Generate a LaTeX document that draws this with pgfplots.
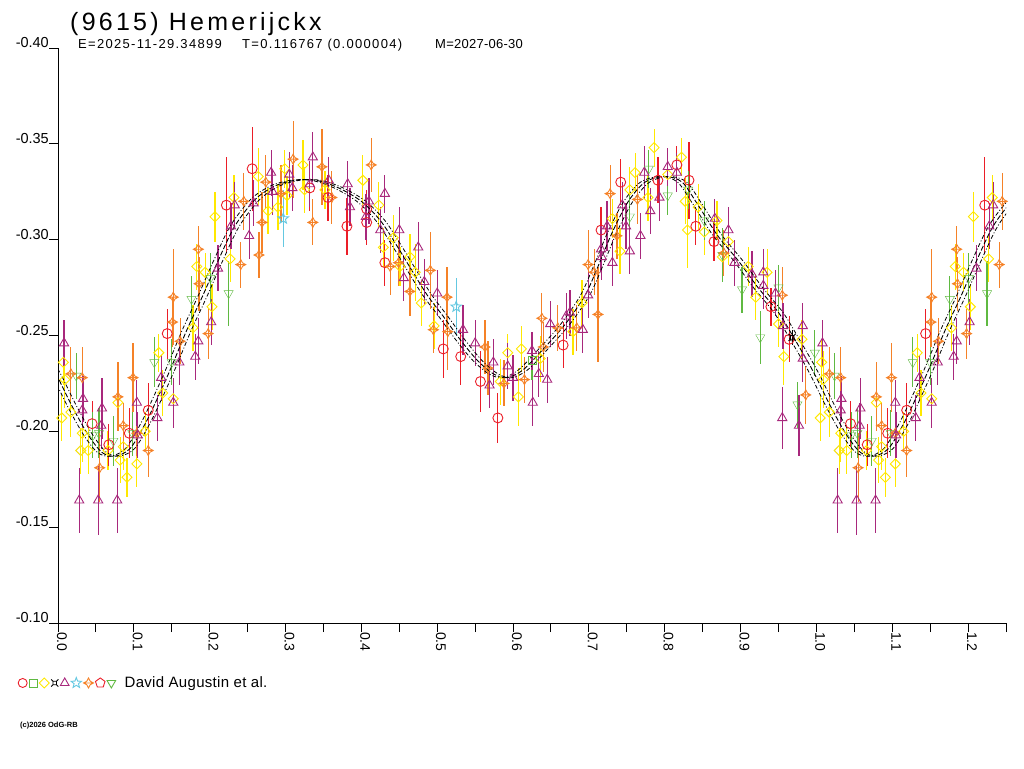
\documentclass[border=0pt]{standalone}
\usepackage{fontspec}
\setmainfont{Liberation Sans}
\usepackage{pgfplots}
\usepackage{pgfplotstable}
\pgfplotsset{compat=1.18}
\definecolor{cred}{RGB}{235,30,40}
\definecolor{cgreen}{RGB}{95,185,65}
\definecolor{cyellow}{RGB}{255,232,0}
\definecolor{cpurple}{RGB}{168,40,124}
\definecolor{ccyan}{RGB}{100,200,225}
\definecolor{corange}{RGB}{245,130,40}
\definecolor{cgray}{RGB}{200,200,200}

\pgfdeclareplotmark{sqdiamond}{%
 \pgfpathmoveto{\pgfqpoint{0pt}{\pgfplotmarksize}}%
 \pgfpathlineto{\pgfqpoint{\pgfplotmarksize}{0pt}}%
 \pgfpathlineto{\pgfqpoint{0pt}{-\pgfplotmarksize}}%
 \pgfpathlineto{\pgfqpoint{-\pgfplotmarksize}{0pt}}%
 \pgfpathclose\pgfusepathqstroke}
\pgfdeclareplotmark{sparkle}{%
 \pgfpathmoveto{\pgfqpoint{0pt}{\pgfplotmarksize}}%
 \pgfpathlineto{\pgfqpoint{0.35\pgfplotmarksize}{0.35\pgfplotmarksize}}%
 \pgfpathlineto{\pgfqpoint{\pgfplotmarksize}{0pt}}%
 \pgfpathlineto{\pgfqpoint{0.35\pgfplotmarksize}{-0.35\pgfplotmarksize}}%
 \pgfpathlineto{\pgfqpoint{0pt}{-\pgfplotmarksize}}%
 \pgfpathlineto{\pgfqpoint{-0.35\pgfplotmarksize}{-0.35\pgfplotmarksize}}%
 \pgfpathlineto{\pgfqpoint{-\pgfplotmarksize}{0pt}}%
 \pgfpathlineto{\pgfqpoint{-0.35\pgfplotmarksize}{0.35\pgfplotmarksize}}%
 \pgfpathclose
 \pgfpathmoveto{\pgfqpoint{-\pgfplotmarksize}{0pt}}%
 \pgfpathlineto{\pgfqpoint{\pgfplotmarksize}{0pt}}%
 \pgfusepathqstroke}
\pgfdeclareplotmark{ostar}{%
 \pgfpathmoveto{\pgfqpoint{0pt}{\pgfplotmarksize}}%
 \pgfpathlineto{\pgfqpoint{0.247\pgfplotmarksize}{0.340\pgfplotmarksize}}%
 \pgfpathlineto{\pgfqpoint{0.951\pgfplotmarksize}{0.309\pgfplotmarksize}}%
 \pgfpathlineto{\pgfqpoint{0.399\pgfplotmarksize}{-0.130\pgfplotmarksize}}%
 \pgfpathlineto{\pgfqpoint{0.588\pgfplotmarksize}{-0.809\pgfplotmarksize}}%
 \pgfpathlineto{\pgfqpoint{0pt}{-0.42\pgfplotmarksize}}%
 \pgfpathlineto{\pgfqpoint{-0.588\pgfplotmarksize}{-0.809\pgfplotmarksize}}%
 \pgfpathlineto{\pgfqpoint{-0.399\pgfplotmarksize}{-0.130\pgfplotmarksize}}%
 \pgfpathlineto{\pgfqpoint{-0.951\pgfplotmarksize}{0.309\pgfplotmarksize}}%
 \pgfpathlineto{\pgfqpoint{-0.247\pgfplotmarksize}{0.340\pgfplotmarksize}}%
 \pgfpathclose\pgfusepathqstroke}
\pgfdeclareplotmark{currency}{%
 \pgfpathrectangle{\pgfqpoint{-0.45\pgfplotmarksize}{-0.45\pgfplotmarksize}}{\pgfqpoint{0.9\pgfplotmarksize}{0.9\pgfplotmarksize}}%
 \pgfpathmoveto{\pgfqpoint{0.45\pgfplotmarksize}{0.45\pgfplotmarksize}}\pgfpathlineto{\pgfqpoint{0.9\pgfplotmarksize}{0.9\pgfplotmarksize}}%
 \pgfpathmoveto{\pgfqpoint{-0.45\pgfplotmarksize}{0.45\pgfplotmarksize}}\pgfpathlineto{\pgfqpoint{-0.9\pgfplotmarksize}{0.9\pgfplotmarksize}}%
 \pgfpathmoveto{\pgfqpoint{0.45\pgfplotmarksize}{-0.45\pgfplotmarksize}}\pgfpathlineto{\pgfqpoint{0.9\pgfplotmarksize}{-0.9\pgfplotmarksize}}%
 \pgfpathmoveto{\pgfqpoint{-0.45\pgfplotmarksize}{-0.45\pgfplotmarksize}}\pgfpathlineto{\pgfqpoint{-0.9\pgfplotmarksize}{-0.9\pgfplotmarksize}}%
 \pgfusepathqstroke}

\pgfplotstableread{
x y
-0.030 -0.249
-0.008 -0.234
0.000 -0.228
0.020 -0.212
0.040 -0.198
0.058 -0.189
0.075 -0.187
0.095 -0.191
0.115 -0.204
0.132 -0.218
0.150 -0.234
0.170 -0.253
0.190 -0.270
0.210 -0.288
0.233 -0.307
0.260 -0.321
0.286 -0.328
0.313 -0.331
0.340 -0.331
0.370 -0.327
0.400 -0.320
0.425 -0.310
0.445 -0.298
0.465 -0.285
0.487 -0.271
0.508 -0.260
0.530 -0.248
0.553 -0.237
0.574 -0.230
0.592 -0.228
0.613 -0.232
0.640 -0.243
0.669 -0.256
0.695 -0.271
0.712 -0.286
0.731 -0.304
0.752 -0.320
0.774 -0.330
0.800 -0.333
0.823 -0.330
0.844 -0.318
0.870 -0.302
0.897 -0.289
0.923 -0.275
0.950 -0.262
0.970 -0.249
0.992 -0.234
1.000 -0.228
1.020 -0.212
1.040 -0.198
1.058 -0.189
1.075 -0.187
1.095 -0.191
1.115 -0.204
1.132 -0.218
1.150 -0.234
1.170 -0.253
1.190 -0.270
1.210 -0.288
1.233 -0.307
1.260 -0.321
1.286 -0.328
}\tcurve

\pgfplotstableread{
x y e
0.045 -0.204 0.012
0.067 -0.193 0.011
0.094 -0.199 0.013
0.119 -0.211 0.014
0.144 -0.251 0.013
0.222 -0.318 0.025
0.256 -0.337 0.022
0.332 -0.327 0.012
0.356 -0.322 0.012
0.381 -0.307 0.015
0.407 -0.309 0.012
0.407 -0.316 0.010
0.431 -0.288 0.012
0.508 -0.243 0.015
0.531 -0.239 0.015
0.557 -0.226 0.016
0.580 -0.207 0.013
0.666 -0.245 0.012
0.716 -0.305 0.012
0.742 -0.330 0.012
0.791 -0.331 0.012
0.816 -0.339 0.010
0.832 -0.331 0.020
0.841 -0.307 0.010
0.865 -0.299 0.010
0.940 -0.265 0.010
0.964 -0.248 0.012
}\tred

\pgfplotstableread{
x y e
0.625 -0.237 0.010
}\tgreensq

\pgfplotstableread{
x y e
0.007 -0.236 0.012
0.009 -0.227 0.015
0.005 -0.207 0.012
0.017 -0.210 0.013
0.032 -0.199 0.015
0.030 -0.190 0.012
0.040 -0.190 0.012
0.066 -0.190 0.010
0.079 -0.215 0.015
0.082 -0.185 0.012
0.086 -0.192 0.012
0.091 -0.176 0.010
0.104 -0.183 0.012
0.115 -0.200 0.010
0.133 -0.241 0.010
0.138 -0.220 0.012
0.152 -0.217 0.010
0.178 -0.254 0.012
0.183 -0.286 0.012
0.194 -0.283 0.010
0.203 -0.265 0.012
0.207 -0.312 0.013
0.227 -0.290 0.012
0.232 -0.322 0.012
0.264 -0.333 0.015
0.277 -0.315 0.012
0.290 -0.317 0.012
0.299 -0.337 0.010
0.302 -0.323 0.010
0.323 -0.339 0.013
0.325 -0.326 0.012
0.352 -0.326 0.010
0.402 -0.331 0.013
0.423 -0.318 0.012
0.429 -0.296 0.010
0.442 -0.301 0.012
0.464 -0.291 0.012
0.471 -0.283 0.015
0.451 -0.286 0.010
0.479 -0.267 0.012
0.496 -0.255 0.012
0.593 -0.241 0.010
0.583 -0.226 0.012
0.607 -0.218 0.015
0.611 -0.243 0.012
0.636 -0.238 0.012
0.679 -0.252 0.012
0.691 -0.267 0.012
0.731 -0.311 0.010
0.741 -0.294 0.012
0.754 -0.326 0.012
0.761 -0.335 0.010
0.778 -0.322 0.012
0.786 -0.348 0.010
0.804 -0.334 0.012
0.822 -0.343 0.010
0.827 -0.320 0.012
0.830 -0.305 0.020
0.844 -0.317 0.012
0.852 -0.304 0.012
0.869 -0.310 0.010
0.884 -0.299 0.012
0.876 -0.291 0.012
0.910 -0.286 0.010
0.920 -0.270 0.012
0.935 -0.283 0.012
0.950 -0.256 0.012
0.957 -0.239 0.015
0.981 -0.248 0.010
}\tyellow

\pgfplotstableread{
x y e
0.030 -0.190 0.008
}\tgray

\pgfplotstableread{
x y e
0.968 -0.249 0.004
}\tblack

\pgfplotstableread{
x y e
0.008 -0.246 0.012
0.033 -0.217 0.012
0.032 -0.211 0.010
0.028 -0.164 0.017
0.053 -0.164 0.018
0.078 -0.164 0.017
0.058 -0.212 0.016
0.057 -0.203 0.012
0.104 -0.215 0.012
0.105 -0.198 0.012
0.131 -0.207 0.012
0.136 -0.228 0.012
0.152 -0.215 0.013
0.160 -0.236 0.012
0.181 -0.239 0.012
0.185 -0.247 0.012
0.202 -0.257 0.012
0.211 -0.285 0.012
0.233 -0.318 0.012
0.228 -0.307 0.012
0.252 -0.302 0.012
0.258 -0.319 0.012
0.281 -0.335 0.012
0.283 -0.325 0.012
0.305 -0.334 0.012
0.309 -0.327 0.012
0.336 -0.343 0.013
0.332 -0.329 0.012
0.357 -0.331 0.012
0.382 -0.329 0.012
0.385 -0.317 0.010
0.410 -0.320 0.012
0.406 -0.312 0.012
0.431 -0.324 0.010
0.425 -0.305 0.012
0.450 -0.305 0.012
0.475 -0.296 0.013
0.456 -0.280 0.012
0.483 -0.278 0.012
0.500 -0.272 0.012
0.534 -0.253 0.013
0.550 -0.246 0.012
0.574 -0.236 0.012
0.569 -0.224 0.012
0.593 -0.234 0.012
0.600 -0.228 0.012
0.625 -0.242 0.010
0.626 -0.215 0.012
0.634 -0.230 0.012
0.645 -0.227 0.012
0.649 -0.256 0.012
0.670 -0.260 0.012
0.675 -0.262 0.012
0.692 -0.253 0.012
0.699 -0.271 0.012
0.716 -0.295 0.012
0.717 -0.291 0.012
0.724 -0.307 0.013
0.731 -0.288 0.012
0.744 -0.318 0.012
0.749 -0.307 0.012
0.754 -0.294 0.012
0.768 -0.302 0.012
0.773 -0.335 0.014
0.781 -0.315 0.012
0.793 -0.322 0.012
0.804 -0.338 0.010
0.816 -0.335 0.010
0.866 -0.311 0.010
0.884 -0.305 0.012
0.892 -0.288 0.012
0.915 -0.282 0.012
0.930 -0.283 0.012
0.930 -0.276 0.012
0.946 -0.272 0.012
0.955 -0.207 0.016
0.956 -0.255 0.012
0.977 -0.203 0.016
0.982 -0.255 0.012
0.982 -0.238 0.012
}\tpurple

\pgfplotstableread{
x y e
0.297 -0.311 0.015
0.525 -0.265 0.015
}\tcyan

\pgfplotstableread{
x y e
0.017 -0.230 0.014
0.032 -0.228 0.016
0.055 -0.181 0.018
0.079 -0.218 0.018
0.086 -0.203 0.012
0.099 -0.228 0.018
0.104 -0.199 0.012
0.119 -0.190 0.014
0.152 -0.270 0.025
0.151 -0.257 0.013
0.161 -0.247 0.012
0.185 -0.295 0.012
0.186 -0.277 0.014
0.198 -0.251 0.013
0.241 -0.287 0.012
0.245 -0.320 0.015
0.265 -0.292 0.012
0.269 -0.309 0.016
0.274 -0.330 0.014
0.294 -0.324 0.015
0.310 -0.342 0.020
0.348 -0.338 0.020
0.361 -0.322 0.014
0.336 -0.309 0.012
0.413 -0.339 0.014
0.438 -0.286 0.015
0.449 -0.288 0.012
0.464 -0.273 0.013
0.491 -0.284 0.020
0.495 -0.253 0.012
0.513 -0.270 0.016
0.514 -0.252 0.020
0.563 -0.244 0.014
0.567 -0.233 0.014
0.588 -0.225 0.012
0.615 -0.227 0.012
0.638 -0.259 0.013
0.640 -0.244 0.013
0.659 -0.254 0.012
0.684 -0.254 0.012
0.699 -0.287 0.018
0.707 -0.283 0.012
0.712 -0.261 0.025
0.728 -0.324 0.015
0.737 -0.302 0.012
0.764 -0.321 0.013
0.878 -0.293 0.012
0.955 -0.271 0.015
0.986 -0.219 0.015
}\torange

\pgfplotstableread{
x y e
0.024 -0.229 0.012
0.046 -0.198 0.012
0.054 -0.199 0.013
0.073 -0.195 0.013
0.098 -0.199 0.012
0.127 -0.236 0.013
0.150 -0.236 0.012
0.176 -0.269 0.012
0.201 -0.280 0.013
0.225 -0.272 0.017
0.754 -0.312 0.012
0.779 -0.337 0.010
0.804 -0.323 0.010
0.831 -0.326 0.010
0.852 -0.310 0.010
0.876 -0.292 0.014
0.902 -0.274 0.012
0.926 -0.249 0.014
0.950 -0.275 0.012
0.975 -0.214 0.012
0.998 -0.241 0.012
}\tgreentri

\pgfplotsset{
 ser/.style={only marks, color=#1, forget plot,
   mark options={solid, line width=0.9pt, fill=none, draw=#1},
   error bars/y dir=both, error bars/y explicit, error bars/error mark=none,
   error bars/error bar style={line width=1.2pt, color=#1, solid}},
 wrap/.style={restrict x to domain=1:1.3},
}

\begin{document}
\begin{tikzpicture}
\path[use as bounding box] (0,0) rectangle (1024pt,768pt);
\begin{axis}[
 at={(58pt,145pt)}, anchor=south west,
 scale only axis, width=948pt, height=575pt,
 xmin=0, xmax=1.25, ymin=-0.40, ymax=-0.10, y dir=reverse,
 axis x line*=bottom, axis y line*=left,
 axis line style={line width=1pt, -},
 tick style={line width=1pt, black},
 tick align=outside, major tick length=9pt,
 xtick={0,0.05,0.1,0.15,0.2,0.25,0.3,0.35,0.4,0.45,0.5,0.55,0.6,0.65,0.7,0.75,0.8,0.85,0.9,0.95,1.0,1.05,1.1,1.15,1.2,1.25},
 xticklabels={0.0,,0.1,,0.2,,0.3,,0.4,,0.5,,0.6,,0.7,,0.8,,0.9,,1.0,,1.1,,1.2,},
 ytick={-0.40,-0.35,-0.30,-0.25,-0.20,-0.15,-0.10},
 yticklabels={-0.40,-0.35,-0.30,-0.25,-0.20,-0.15,-0.10},
 xticklabel style={rotate=-90, anchor=base west, inner sep=0pt, yshift=-1pt, font=\fontsize{14}{14}\selectfont},
 yticklabel style={anchor=south east, inner sep=0pt, font=\fontsize{14.5}{14.5}\selectfont},
 legend image code/.code={\draw[mark repeat=1,mark phase=1,#1] plot coordinates {(5pt,0pt)};},
 legend columns=-1,
 legend style={at={(-0.0422,-0.1043)}, anchor=west, draw=none, fill=none, inner sep=0pt,
   nodes={inner sep=0pt}, column sep=0pt, font=\fontsize{15}{15}\selectfont\addfontfeature{LetterSpace=2},
   /tikz/every odd column/.append style={column sep=1pt}},
]
% data, first cycle and wrapped copy
\addplot[ser=cgray, mark=sqdiamond, mark size=5pt] table[x=x,y=y,y error=e]{\tgray};
\addplot[ser=cgray, mark=sqdiamond, mark size=5pt, wrap] table[x expr=\thisrow{x}+1,y=y,y error=e]{\tgray};
\addplot[ser=cyellow, mark=sqdiamond, mark size=5pt] table[x=x,y=y,y error=e]{\tyellow};
\addplot[ser=cyellow, mark=sqdiamond, mark size=5pt, wrap] table[x expr=\thisrow{x}+1,y=y,y error=e]{\tyellow};
\addplot[ser=cred, mark=o, mark size=5pt] table[x=x,y=y,y error=e]{\tred};
\addplot[ser=cred, mark=o, mark size=5pt, wrap] table[x expr=\thisrow{x}+1,y=y,y error=e]{\tred};
\addplot[ser=cgreen, mark=square, mark size=4pt] table[x=x,y=y,y error=e]{\tgreensq};
\addplot[ser=cgreen, mark=triangle, mark size=5.3pt, mark options={rotate=180}] table[x=x,y=y,y error=e]{\tgreentri};
\addplot[ser=cgreen, mark=triangle, mark size=5.3pt, mark options={rotate=180}, wrap] table[x expr=\thisrow{x}+1,y=y,y error=e]{\tgreentri};
\addplot[ser=corange, mark=sparkle, mark size=5pt] table[x=x,y=y,y error=e]{\torange};
\addplot[ser=corange, mark=sparkle, mark size=5pt, wrap] table[x expr=\thisrow{x}+1,y=y,y error=e]{\torange};
\addplot[ser=cpurple, mark=triangle, mark size=5.3pt] table[x=x,y=y,y error=e]{\tpurple};
\addplot[ser=cpurple, mark=triangle, mark size=5.3pt, wrap] table[x expr=\thisrow{x}+1,y=y,y error=e]{\tpurple};
\addplot[ser=ccyan, mark=ostar, mark size=5.5pt] table[x=x,y=y,y error=e]{\tcyan};
\addplot[ser=black, mark=currency, mark size=4pt] table[x=x,y=y,y error=e]{\tblack};
% fitted curve and its envelopes
\addplot[black, line width=0.9pt, dash pattern=on 5pt off 2pt, smooth, forget plot] table[x=x,y=y]{\tcurve};
\addplot[black, line width=0.8pt, dash pattern=on 4pt off 2pt on 1pt off 2pt, smooth, forget plot] table[x expr=\thisrow{x}+0.006,y=y]{\tcurve};
\addplot[black, line width=0.8pt, dash pattern=on 4pt off 2pt on 1pt off 2pt, smooth, forget plot] table[x expr=\thisrow{x}-0.006,y=y]{\tcurve};
% legend symbols
\addlegendimage{only marks, mark=o, mark size=4.5pt, color=cred, mark options={line width=0.9pt}}
\addlegendentry{\mbox{}}
\addlegendimage{only marks, mark=square, mark size=4pt, color=cgreen, mark options={line width=0.9pt}}
\addlegendentry{\mbox{}}
\addlegendimage{only marks, mark=sqdiamond, mark size=5pt, color=cyellow, mark options={line width=0.9pt}}
\addlegendentry{\mbox{}}
\addlegendimage{only marks, mark=currency, mark size=4pt, color=black, mark options={line width=0.8pt}}
\addlegendentry{\mbox{}}
\addlegendimage{only marks, mark=triangle, mark size=5pt, color=cpurple, mark options={line width=0.9pt}}
\addlegendentry{\mbox{}}
\addlegendimage{only marks, mark=ostar, mark size=5.5pt, color=ccyan, mark options={line width=0.9pt}}
\addlegendentry{\mbox{}}
\addlegendimage{only marks, mark=sparkle, mark size=5pt, color=corange, mark options={line width=0.9pt}}
\addlegendentry{\mbox{}}
\addlegendimage{only marks, mark=pentagon, mark size=5pt, color=cred, mark options={line width=0.9pt}}
\addlegendentry{\mbox{}}
\addlegendimage{only marks, mark=triangle, mark size=5pt, color=cgreen, mark options={line width=0.9pt, rotate=180}}
\addlegendentry{\hspace{8pt}David Augustin et al.}
\end{axis}
\node[anchor=base west, inner sep=0pt, font=\fontsize{25}{25}\selectfont\addfontfeature{LetterSpace=13}] at (70pt,737pt) {(9615) Hemerijckx};
\node[anchor=base west, inner sep=0pt, font=\fontsize{13}{13}\selectfont\addfontfeature{LetterSpace=10}] at (78pt,719pt) {E=2025-11-29.34899};
\node[anchor=base west, inner sep=0pt, font=\fontsize{13}{13}\selectfont\addfontfeature{LetterSpace=10}] at (242pt,719pt) {T=0.116767 (0.000004)};
\node[anchor=base west, inner sep=0pt, font=\fontsize{13}{13}\selectfont\addfontfeature{LetterSpace=2}] at (435pt,719pt) {M=2027-06-30};
\node[anchor=base west, inner sep=0pt, font=\fontsize{7.5}{7.5}\selectfont\bfseries] at (20pt,41pt) {(c)2026 OdG-RB};
\end{tikzpicture}
\end{document}
